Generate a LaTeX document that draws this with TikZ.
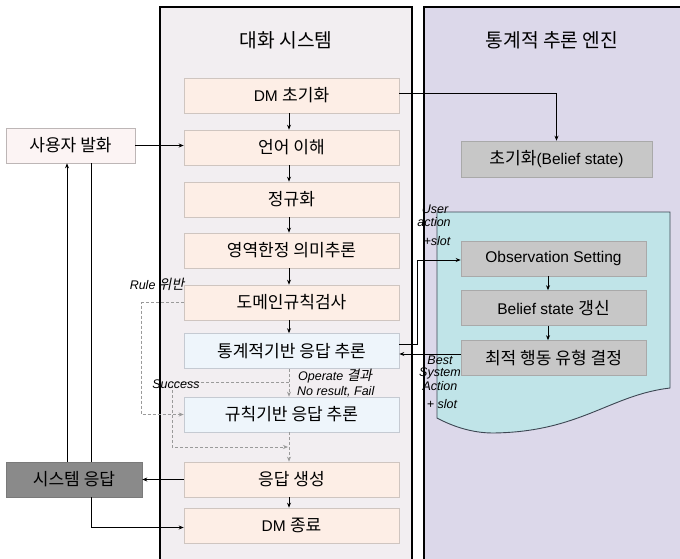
\documentclass[tikz,border=0pt]{standalone}
\usepackage{fontspec}
\setmainfont{Liberation Sans}
\newfontfamily\kr[Scale=1.1]{Noto Sans CJK KR}
\newfontfamily\krit[Scale=1.1,FakeSlant=0.2]{Noto Sans CJK KR}
\usetikzlibrary{arrows.meta}
\definecolor{panelL}{HTML}{F2EEF1}
\definecolor{panelR}{HTML}{DCD8EA}
\definecolor{peach}{HTML}{FDEEE6}
\definecolor{peachB}{HTML}{CFC5C0}
\definecolor{blueF}{HTML}{EEF5FB}
\definecolor{blueB}{HTML}{C5CAD2}
\definecolor{grayF}{HTML}{C7C7C7}
\definecolor{grayB}{HTML}{A9A9A9}
\definecolor{sysF}{HTML}{8A8A8A}
\definecolor{sysB}{HTML}{7A7A7A}
\definecolor{userF}{HTML}{FCF4F4}
\definecolor{userB}{HTML}{BDB6B6}
\definecolor{cyanF}{HTML}{C0E4E8}
\definecolor{cyanB}{HTML}{3C4652}
\definecolor{dashC}{HTML}{9A9A9A}
\begin{document}
\begin{tikzpicture}[x=1pt,y=-1pt,
  box/.style={draw=peachB, line width=0.6pt, minimum width=215pt, minimum height=35pt, inner sep=0pt, font=\fontsize{15.5}{18}\selectfont},
  peachbox/.style={box, fill=peach},
  bluebox/.style={box, fill=blueF, draw=blueB},
  graybox/.style={box, fill=grayF, draw=grayB, minimum width=185pt},
  arr/.style={-{Stealth[length=5pt,width=4pt]}, line width=0.8pt},
  dasharr/.style={-{Stealth[length=5pt,width=4pt]}, line width=0.8pt, draw=dashC, dash pattern=on 3pt off 2pt},
  lab/.style={font=\fontsize{12.5}{13}\selectfont\itshape, inner sep=0pt},
  title/.style={font=\kr\fontsize{17.5}{20}\selectfont, inner sep=0pt}
]
\useasboundingbox (0,0) rectangle (680,559);
\clip (0,0) rectangle (680,559);
\fill[white] (0,0) rectangle (680,559);

% panels
\draw[fill=panelL, line width=1.4pt] (160,7) rectangle (412,580);
\draw[fill=panelR, line width=1.4pt] (424,7) rectangle (700,580);
\node[title] (t1) at (286,40) {대화 시스템};
\node[title] (t2) at (552,40) {통계적 추론 엔진};

% cyan document shape
\draw[fill=cyanF, draw=cyanB, line width=0.9pt] (437,212) -- (670,212) -- (670,388)
  .. controls (610,395) and (580,432) .. (493,433)
  .. controls (470,433) and (450,425) .. (437,418) -- cycle;

% left column
\node[peachbox] (dm)   at (291.5,95.5)  {DM {\kr 초기화}};
\node[peachbox] (lu)   at (291.5,147.5) {\kr 언어 이해};
\node[peachbox] (norm) at (291.5,199.5) {\kr 정규화};
\node[peachbox] (sem)  at (291.5,250.5) {\kr 영역한정 의미추론};
\node[peachbox] (dom)  at (291.5,302.5) {\kr 도메인규칙검사};
\node[bluebox]  (stat) at (291.5,351)   {\kr 통계적기반 응답 추론};
\node[bluebox]  (rule) at (291.5,414.5) {\kr 규칙기반 응답 추론};
\node[peachbox] (gen)  at (291.5,479.5) {\kr 응답 생성};
\node[peachbox] (end)  at (291.5,525.5) {DM {\kr 종료}};

% outer boxes
\node[box, fill=userF, draw=userB, minimum width=129pt] (user) at (70.5,145.5) {\kr 사용자 발화};
\node[box, fill=sysF, draw=sysB, minimum width=136pt] (sys) at (74,479.5) {\kr 시스템 응답};

% right column
\node[graybox, minimum width=191pt, minimum height=36pt] (bs) at (556.5,159) {{\kr 초기화}(Belief state)};
\node[graybox] (obs) at (553.5,258.5) {Observation Setting};
\node[graybox] (bu)  at (553.5,308)   {Belief state {\kr 갱신}};
\node[graybox] (opt) at (553.5,358)   {\kr 최적 행동 유형 결정};

% helper coordinates
\coordinate (ax) at (289,0);
\coordinate (bx) at (548,0);
\coordinate (xa) at (67,0);
\coordinate (xb) at (91,0);

% solid arrows in left column
\draw[arr] (dm.south -| ax) -- (lu.north -| ax);
\draw[arr] (lu.south -| ax) -- (norm.north -| ax);
\draw[arr] (norm.south -| ax) -- (sem.north -| ax);
\draw[arr] (sem.south -| ax) -- (dom.north -| ax);
\draw[arr] (dom.south -| ax) -- (stat.north -| ax);
\draw[arr] (gen.south -| ax) -- (end.north -| ax);

% user / system
\draw[arr] (user.east) -- (user.east -| lu.west);
\draw[arr] (gen.west) -- (gen.west -| sys.east);
\draw[arr] (sys.north -| xa) -- (user.south -| xa);
\draw (user.south -| xb) -- (sys.north -| xb);
\draw[arr] (sys.south -| xb) |- ([yshift=-2pt]end.west);

% to statistical engine
\draw[arr] ([yshift=2pt]dm.east) -| (bs.north);
\draw[arr] ([yshift=7pt]stat.east) -- ++(18,0) |- ([yshift=-1.5pt]obs.west);
\draw[arr] (obs.south -| bx) -- (bu.north -| bx);
\draw[arr] (bu.south -| bx) -- (opt.north -| bx);
\coordinate (o1) at ([yshift=4pt]opt.west);
\draw[arr] (o1) -- (o1 -| stat.east);

% dashed gray flows
\draw[dasharr] (dom.west) -- ++(-42,0) |- (rule.west);
\draw[dasharr] (stat.south -| ax) -- (rule.north -| ax);
\coordinate (sbr) at (289,382);
\coordinate (smg) at (288,447);
\draw[dasharr] (sbr) -- (172,382) |- (smg);
\draw[dasharr] (rule.south -| ax) -- (gen.north -| ax);

% labels
\node[lab] (lrule) at (157,284) {Rule {\krit 위반}};
\node[lab] (lsucc) at (176,384) {Success};
\node[lab, anchor=west] (lop) at (298,376) {Operate {\krit 결과}};
\node[lab, anchor=west] (lno) at (297,392) {No result, Fail};
\node[lab] (lu1) at (435,209) {User};
\node[lab] (lu2) at (434,222) {action};
\node[lab] (lu3) at (437,241) {+slot};
\node[lab] (lb1) at (440,360) {Best};
\node[lab] (lb2) at (440,373) {System};
\node[lab] (lb3) at (440,386) {Action};
\node[lab] (lb4) at (442,404) {+ slot};
\end{tikzpicture}
\end{document}
